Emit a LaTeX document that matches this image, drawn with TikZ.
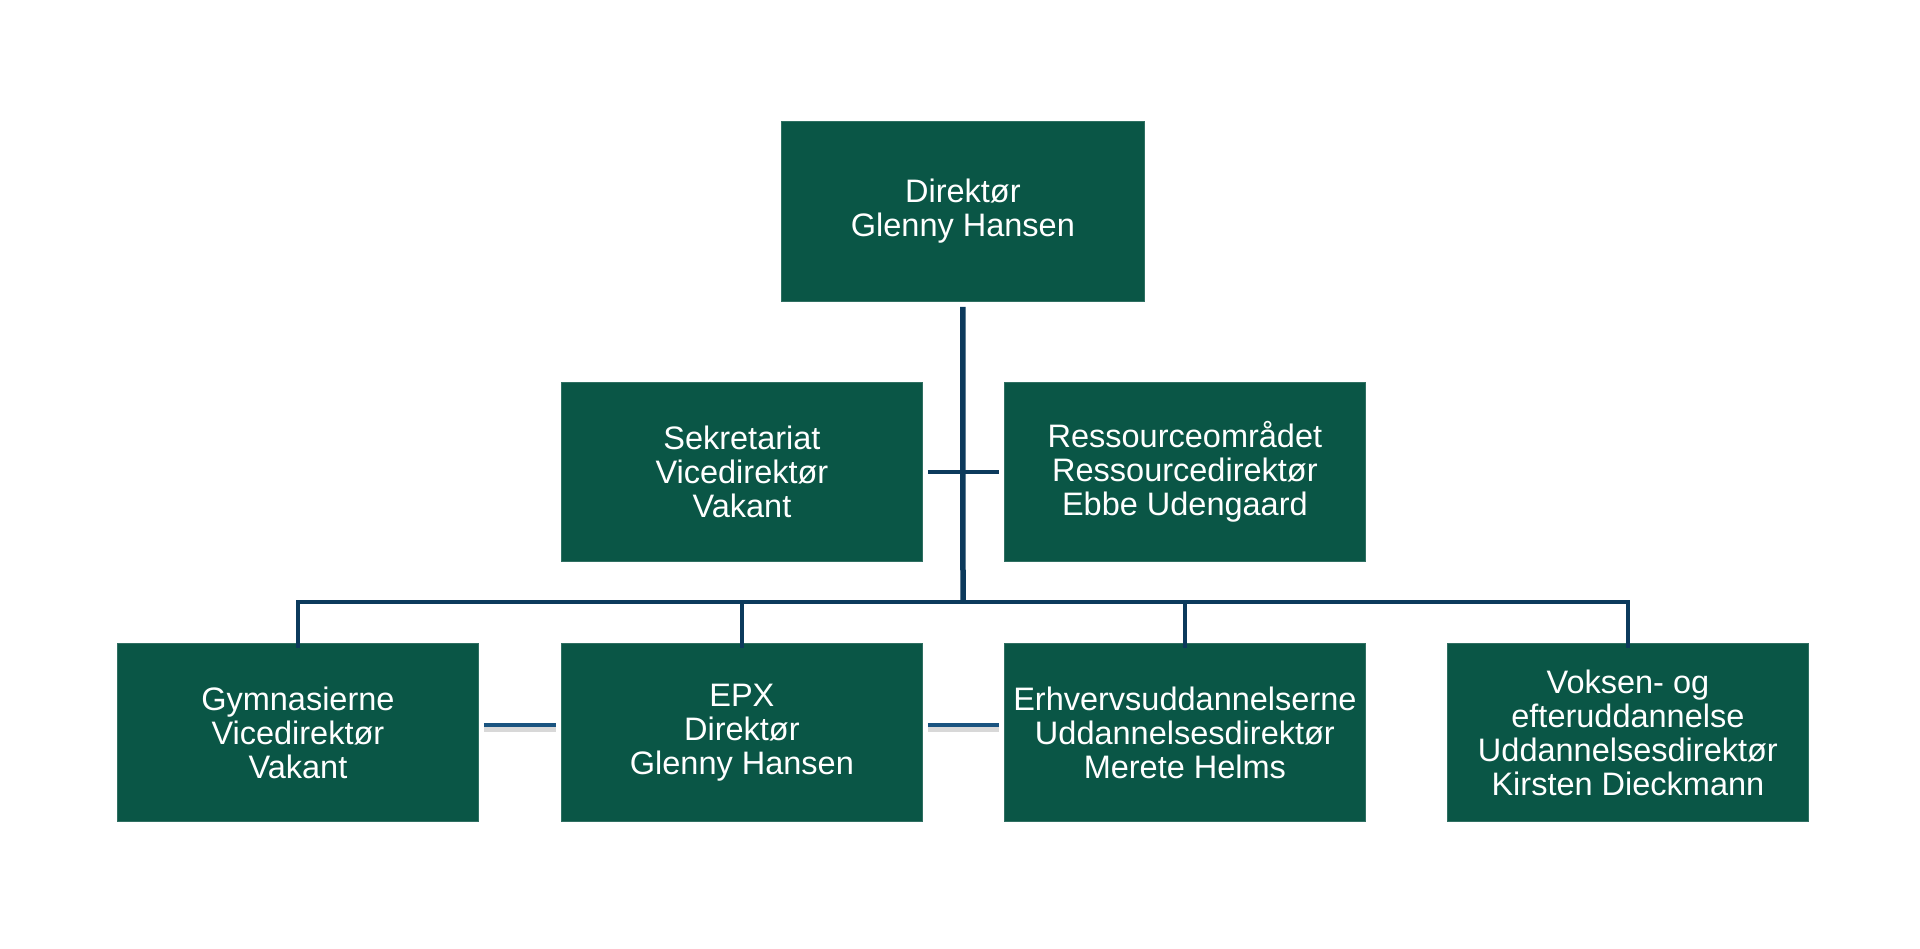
\documentclass[tikz,border=0pt]{standalone}
\usepackage{fontspec}
\setmainfont{Liberation Sans}
\definecolor{boxgreen}{HTML}{0A5646}
\definecolor{linenavy}{HTML}{0C3A5C}
\definecolor{linkblue}{HTML}{1A5480}
\begin{document}
\begin{tikzpicture}[x=1pt,y=-1pt,
  orgbox/.style={fill=boxgreen, draw=boxgreen!85!white, line width=0.8pt, text=white,
    inner sep=0pt, align=center, anchor=north west,
    font=\fontsize{32.5}{34}\selectfont, minimum height=179pt, minimum width=361pt},
  trunk/.style={draw=linenavy, line width=5.5pt},
  bus/.style={draw=linenavy, line width=4.5pt},
  cross/.style={draw=linenavy, line width=4pt},
  peer/.style={draw=linkblue, line width=4pt},
  peershadow/.style={draw=black!30, line width=5pt, opacity=0.5}]
\useasboundingbox (0,0) rectangle (1920,949);
\fill[white] (0,0) rectangle (1920,949);

\node[orgbox, minimum width=363pt, minimum height=180pt] (dir) at (781,121) {Direktør\\Glenny Hansen};
\node[orgbox] (sek) at (561,382) {Sekretariat\\Vicedirektør\\Vakant};
\node[orgbox] (res) at (1004,382) {Ressourceområdet\\Ressourcedirektør\\Ebbe Udengaard};
\node[orgbox, minimum height=178pt] (gym) at (117,643) {Gymnasierne\\Vicedirektør\\Vakant};
\node[orgbox, minimum height=178pt] (epx) at (561,643) {EPX\\Direktør\\Glenny Hansen};
\node[orgbox, minimum height=178pt] (erh) at (1004,643) {Erhvervsuddannelserne\\Uddannelsesdirektør\\Merete Helms};
\node[orgbox, minimum height=178pt] (vok) at (1447,643) {Voksen- og\\efteruddannelse\\Uddannelsesdirektør\\Kirsten Dieckmann};

\path (dir.south) ++(0,5) coordinate (ts);
\coordinate (bus) at (963,602);

% trunk
\draw[trunk] (ts) -- (bus);
% bus and drops
\draw[bus] ([yshift=-5pt]gym.north) -- (gym.north |- bus) -- (vok.north |- bus) -- ([yshift=-5pt]vok.north);
\draw[bus] (epx.north |- bus) -- ([yshift=-5pt]epx.north);
\draw[bus] (erh.north |- bus) -- ([yshift=-5pt]erh.north);
% cross connector
\draw[cross] ([xshift=5pt]sek.east) -- ([xshift=-5pt]res.west);
% peer connectors on bottom row
\draw[peershadow] ([xshift=5pt,yshift=3pt]gym.east) -- ([xshift=-5pt,yshift=3pt]epx.west);
\draw[peershadow] ([xshift=5pt,yshift=3pt]epx.east) -- ([xshift=-5pt,yshift=3pt]erh.west);
\draw[peer] ([xshift=5pt,yshift=7pt]gym.east) -- ([xshift=-5pt,yshift=7pt]epx.west);
\draw[peer] ([xshift=5pt,yshift=7pt]epx.east) -- ([xshift=-5pt,yshift=7pt]erh.west);
\end{tikzpicture}
\end{document}
